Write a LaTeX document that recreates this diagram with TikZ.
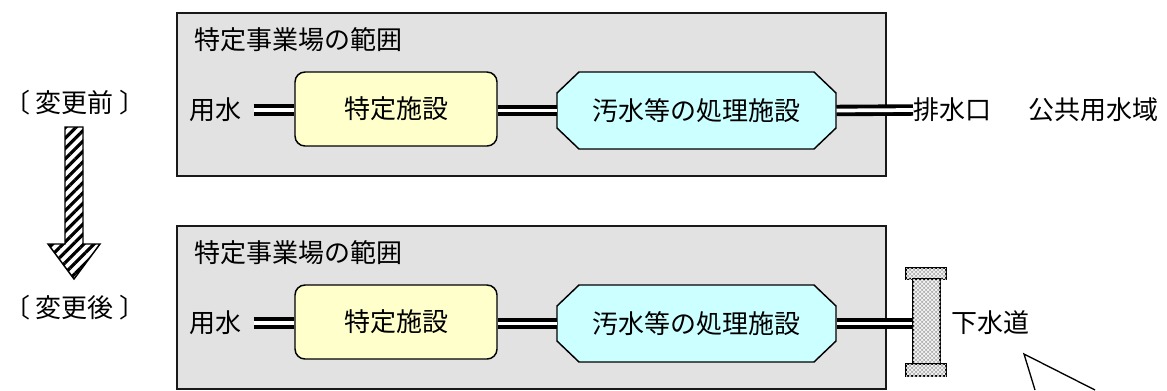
\documentclass[tikz,border=0pt]{standalone}
\usepackage{fontspec}
\setmainfont{Noto Sans CJK JP}
\usetikzlibrary{patterns,patterns.meta}

\definecolor{siteGray}{RGB}{226,226,226}
\definecolor{facYellow}{RGB}{255,255,204}
\definecolor{treatCyan}{RGB}{204,255,255}

\tikzset{every picture/.style={line width=0.75pt}}
\tikzset{
  txt/.style={inner sep=0.75pt, font=\fontsize{19.5pt}{23pt}\selectfont},
  site/.style={draw=black!90, line width=1.1pt, fill=siteGray},
  facility/.style={txt, draw, line width=1.1pt, rounded corners=7.5pt, fill=facYellow, minimum width=151.5pt, minimum height=55.5pt},
  treatbox/.style={txt, minimum width=209.25pt, minimum height=57.75pt},
  octagon/.style={draw, line width=1.1pt, fill=treatCyan},
  pipe/.style={draw, line width=2.9pt, double=white, double distance=2.8pt},
  sewerpart/.style={draw, line width=1.1pt, fill=black!30, postaction={pattern=crosshatch, pattern color=white}},
}

\begin{document}
\begin{tikzpicture}[x=0.75pt,y=0.75pt,yscale=-1,xscale=1]
\useasboundingbox (0,0) rectangle (1167,390);

%Shape: Rectangle (before)
\draw [site] (177,13) rectangle (886,176);
%Shape: Rectangle (after)
\draw [site] (177,226) rectangle (886,389);

%Shape: Hatched arrow
\draw [line width=1.1pt, pattern={Lines[angle=45,distance=5.5pt,line width=2.4pt]}] (65,127) -- (83,127) -- (83,244) -- (100,244) -- (74,279) -- (48,244) -- (65,244) -- cycle ;

% Text Node
\node [txt] (before) at (75,103) {〔\hspace{4pt}変更前\hspace{4pt}〕};
% Text Node
\node [txt] (after) at (75,308) {〔\hspace{4pt}変更後\hspace{4pt}〕};

%--- before ---
\node [txt, anchor=west] (site1) at (193,40) {特定事業場の範囲};
\node [txt, anchor=west] (water1) at (188,110) {用水};
\node [facility] (spec1) at (396,109) {特定施設};
%Shape: Octagon
\draw [octagon] (579,72) -- (814,72) -- (836,93) -- (836,128) -- (814,149) -- (579,149) -- (557,128) -- (557,93) -- cycle ;
\node [treatbox] (treat1) at (696.5,110.5) {汚水等の処理施設};
\node [txt, anchor=west, inner sep=0pt] (outlet1) at (913,110) {排水口};
\node [txt, anchor=west] (public1) at (1027,110) {公共用水域};

\draw [pipe] ([xshift=8pt]water1.east) -- (water1.east -| spec1.west) ;
\draw [pipe] (spec1.east |- treat1.west) -- (treat1.west) ;
\draw [pipe] (treat1.east) -- (outlet1.west) ;

%--- after ---
\node [txt, anchor=west] (site2) at (193,253) {特定事業場の範囲};
\node [txt, anchor=west] (water2) at (188,323) {用水};
\node [facility] (spec2) at (396,322) {特定施設};
%Shape: Octagon
\draw [octagon] (579,285) -- (814,285) -- (836,306) -- (836,341) -- (814,362) -- (579,362) -- (557,341) -- (557,306) -- cycle ;
\node [treatbox] (treat2) at (696.5,323.5) {汚水等の処理施設};

%Shape: Sewer pipe
\node [sewerpart, minimum width=30pt, minimum height=8.25pt, inner sep=0pt] (capTop) at (926,273.5) {};
\node [sewerpart, minimum width=20.25pt, minimum height=63.75pt, inner sep=0pt] (sewer) at (926.5,321.5) {};
\node [sewerpart, minimum width=30pt, minimum height=9pt, inner sep=0pt] (capBot) at (926,370) {};
\node [txt, anchor=west] (sewerText) at (950,323) {下水道};

\draw [pipe] ([xshift=8pt]water2.east) -- (water2.east -| spec2.west) ;
\draw [pipe] (spec2.east |- treat2.west) -- (treat2.west) ;
\draw [pipe] (treat2.east) -- (treat2.east -| sewer.west) ;

%Shape: Callout
\draw [line width=1pt] (1035,390) -- (1024,354) -- (1095,390) ;
\end{tikzpicture}
\end{document}
